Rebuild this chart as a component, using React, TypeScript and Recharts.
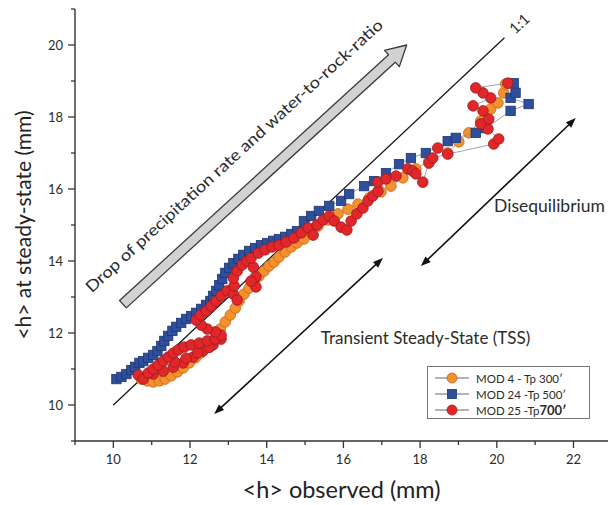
import React from 'react';
import { ScatterChart, Scatter, XAxis, YAxis, ReferenceLine, ReferenceDot } from 'recharts';

// [<h> observed, <h> at steady-state] in mm
const mod4: [number, number][] = [
  [10.73, 10.72], [10.89, 10.67], [11.04, 10.64], [11.2, 10.67], [11.35, 10.72], [11.51, 10.81],
  [11.67, 10.92], [11.82, 11.03], [11.98, 11.17], [12.14, 11.31], [12.27, 11.44], [12.4, 11.58],
  [12.53, 11.75], [12.66, 11.92], [12.79, 12.11], [12.92, 12.31], [13.05, 12.5], [13.18, 12.69],
  [13.28, 12.89], [13.41, 13.08], [13.54, 13.25], [13.67, 13.42], [13.8, 13.58], [13.93, 13.72],
  [14.06, 13.86], [14.19, 13.97], [14.32, 14.11], [14.48, 14.25], [14.64, 14.39], [14.79, 14.5],
  [14.97, 14.61], [15.16, 14.78], [15.34, 14.97], [15.6, 15.14], [15.86, 15.31], [16.12, 15.44],
  [16.38, 15.58], [16.67, 15.75], [16.98, 15.92], [17.24, 16.08], [17.55, 16.31], [17.89, 16.56],
  [18.23, 16.78], [18.72, 17.0], [19.01, 17.31], [19.27, 17.56], [19.58, 17.89], [19.84, 18.22],
  [20.03, 18.39], [20.18, 18.67], [20.23, 18.92],
];

const mod24: [number, number][] = [
  [10.08, 10.72], [10.21, 10.78], [10.34, 10.86], [10.47, 10.97], [10.57, 11.06], [10.68, 11.17],
  [10.78, 11.22], [10.91, 11.31], [11.04, 11.39], [11.15, 11.5], [11.25, 11.64], [11.33, 11.78],
  [11.43, 11.92], [11.54, 12.06], [11.64, 12.17], [11.77, 12.28], [11.9, 12.39], [12.03, 12.47],
  [12.16, 12.56], [12.29, 12.67], [12.42, 12.78], [12.53, 12.89], [12.6, 13.03], [12.68, 13.17],
  [12.76, 13.33], [12.84, 13.5], [12.92, 13.67], [13.02, 13.81], [13.13, 13.94], [13.26, 14.06],
  [13.39, 14.17], [13.54, 14.28], [13.7, 14.36], [13.85, 14.44], [14.01, 14.5], [14.17, 14.56],
  [14.32, 14.61], [14.48, 14.67], [14.64, 14.75], [14.79, 14.83], [14.97, 15.11], [15.16, 15.25],
  [15.36, 15.39], [15.63, 15.53], [15.94, 15.67], [16.15, 15.86], [16.54, 16.08], [16.8, 16.22],
  [17.11, 16.44], [17.45, 16.69], [17.76, 16.86], [18.15, 17.0], [18.72, 17.33], [18.93, 17.42],
  [19.45, 17.56], [19.71, 17.69], [20.36, 18.17], [20.83, 18.36], [20.36, 18.53], [20.49, 18.67],
  [20.44, 18.94],
];

const mod25: [number, number][] = [
  [10.65, 10.83], [10.78, 10.72], [11.04, 10.86], [11.3, 10.94], [11.56, 11.05], [11.82, 11.17],
  [12.08, 11.33], [12.34, 11.5], [12.6, 11.67], [12.81, 11.83], [12.5, 11.6], [12.2, 11.45],
  [11.9, 11.3], [11.6, 11.2], [10.91, 10.89], [11.04, 11.0], [11.17, 11.11], [11.3, 11.22],
  [11.43, 11.33], [11.56, 11.44], [11.69, 11.53], [11.85, 11.61], [12.03, 11.67], [12.24, 11.72],
  [12.45, 11.78], [12.66, 11.83], [12.81, 11.94], [12.66, 12.03], [12.45, 12.11], [12.29, 12.22],
  [12.16, 12.36], [12.27, 12.5], [12.42, 12.61], [12.55, 12.75], [12.68, 12.89], [12.81, 13.03],
  [12.97, 13.17], [13.13, 13.08], [13.23, 12.92], [13.15, 13.31], [13.13, 13.53], [13.23, 13.72],
  [13.36, 13.89], [13.49, 14.0], [13.65, 13.83], [13.72, 13.56], [13.72, 13.28], [13.59, 13.44],
  [13.59, 14.08], [13.78, 14.22], [13.96, 14.31], [14.14, 14.39], [14.32, 14.44], [14.51, 14.53],
  [14.71, 14.64], [14.9, 14.78], [15.08, 14.92], [15.21, 14.72], [15.31, 15.0], [15.47, 15.14],
  [15.63, 15.25], [15.76, 15.11], [15.94, 14.94], [16.09, 14.86], [16.2, 15.11], [16.35, 15.31],
  [16.51, 15.47], [16.64, 15.67], [16.77, 15.81], [16.9, 15.94], [16.9, 16.19], [17.11, 16.28],
  [17.37, 16.36], [17.68, 16.56], [17.81, 16.5], [17.89, 16.42], [18.07, 16.19], [18.23, 16.72],
  [18.33, 16.86], [18.46, 17.14], [18.72, 16.97], [19.92, 17.25], [20.05, 17.39], [19.77, 17.67],
  [19.58, 17.81], [19.79, 17.94], [19.64, 18.17], [19.38, 18.31], [19.84, 18.53], [19.64, 18.67],
  [19.45, 18.81], [20.29, 18.94],
];

const xTicks = [9, 10, 11, 12, 13, 14, 15, 16, 17, 18, 19, 20, 21, 22];
const yTicks = [9, 10, 11, 12, 13, 14, 15, 16, 17, 18, 19, 20, 21];

// annotation anchors, data space
const oneToOne = [{ x: 10, y: 10 }, { x: 20.2, y: 20.2 }];
const dropArrow = [{ x: 10.25, y: 12.8 }, { x: 17.65, y: 20.0 }];
const tssArrow = [{ x: 12.63, y: 9.75 }, { x: 17.03, y: 14.08 }];
const diseqArrow = [{ x: 18.02, y: 13.86 }, { x: 22.06, y: 17.97 }];

const TEXT = '#2b2b2b';
const AXIS = '#333';

const toPts = (arr: number[][]) => arr.map(([x, y]) => ({ x, y }));

const dirOf = (p: any) => {
  const dx = p.x2 - p.x1;
  const dy = p.y2 - p.y1;
  const len = Math.hypot(dx, dy) || 1;
  return { ux: dx / len, uy: dy / len, ang: (Math.atan2(dy, dx) * 180) / Math.PI };
};

const pts = (list: number[][]) => list.map((q) => q.join(',')).join(' ');

const OneToOneShape = (p: any) => {
  const { ux, uy, ang } = dirOf(p);
  const tx = p.x2 + ux * 10;
  const ty = p.y2 + uy * 10;
  return (
    <g>
      <line x1={p.x1} y1={p.y1} x2={p.x2} y2={p.y2} stroke="#111" strokeWidth={1.2} />
      <text x={tx} y={ty} dy="0.35em" fontSize={15} fill={TEXT} transform={`rotate(${ang} ${tx} ${ty})`}>
        1:1
      </text>
    </g>
  );
};

const DropArrowShape = (p: any) => {
  const { ux, uy, ang } = dirOf(p);
  const nx = -uy;
  const ny = ux;
  const hw = 5;
  const hh = 11;
  const hl = 20;
  const bx = p.x2 - ux * hl;
  const by = p.y2 - uy * hl;
  const poly = [
    [p.x1 + nx * hw, p.y1 + ny * hw],
    [bx + nx * hw, by + ny * hw],
    [bx + nx * hh, by + ny * hh],
    [p.x2, p.y2],
    [bx - nx * hh, by - ny * hh],
    [bx - nx * hw, by - ny * hw],
    [p.x1 - nx * hw, p.y1 - ny * hw],
  ];
  const mx = (p.x1 + p.x2) / 2 - ux * 10;
  const my = (p.y1 + p.y2) / 2 - uy * 10;
  const tx = mx - nx * 29;
  const ty = my - ny * 29;
  return (
    <g>
      <polygon points={pts(poly)} fill="#d2d2d2" stroke="#3a3a3a" strokeWidth={1.3} strokeLinejoin="round" />
      <text
        x={tx}
        y={ty}
        textAnchor="middle"
        fontSize={16}
        textLength={396}
        lengthAdjust="spacingAndGlyphs"
        fill={TEXT}
        transform={`rotate(${ang} ${tx} ${ty})`}
      >
        Drop of precipitation rate and water-to-rock-ratio
      </text>
    </g>
  );
};

const DoubleArrowShape = (p: any) => {
  const { ux, uy } = dirOf(p);
  const nx = -uy;
  const ny = ux;
  const hl = 10;
  const hw = 3.8;
  const head = (x: number, y: number, s: number) => [
    [x, y],
    [x - s * ux * hl + nx * hw, y - s * uy * hl + ny * hw],
    [x - s * ux * hl - nx * hw, y - s * uy * hl - ny * hw],
  ];
  return (
    <g>
      <line
        x1={p.x1 + ux * 6}
        y1={p.y1 + uy * 6}
        x2={p.x2 - ux * 6}
        y2={p.y2 - uy * 6}
        stroke="#111"
        strokeWidth={1.6}
      />
      <polygon points={pts(head(p.x2, p.y2, 1))} fill="#111" />
      <polygon points={pts(head(p.x1, p.y1, -1))} fill="#111" />
    </g>
  );
};

const XTick = (props: any) => {
  const { x, y, payload } = props;
  const major = payload.value % 2 === 0;
  return (
    <g>
      <line x1={x} y1={y} x2={x} y2={y + (major ? 7 : 4)} stroke={AXIS} strokeWidth={1.3} />
      {major && (
        <text x={x} y={y + 23} textAnchor="middle" fontSize={13} fill={TEXT}>
          {payload.value}
        </text>
      )}
    </g>
  );
};

const YTick = (props: any) => {
  const { x, y, payload } = props;
  const major = payload.value % 2 === 0;
  return (
    <g>
      <line x1={x} y1={y} x2={x - (major ? 7 : 4)} y2={y} stroke={AXIS} strokeWidth={1.3} />
      {major && (
        <text x={x - 12} y={y} dy="0.35em" textAnchor="end" fontSize={13} fill={TEXT}>
          {payload.value}
        </text>
      )}
    </g>
  );
};

const circleMarker = (fill: string, stroke: string) => (p: any) =>
  <circle cx={p.cx} cy={p.cy} r={5.3} fill={fill} stroke={stroke} strokeWidth={0.8} />;

const squareMarker = (fill: string, stroke: string) => (p: any) =>
  <rect x={p.cx - 4.7} y={p.cy - 4.7} width={9.4} height={9.4} fill={fill} stroke={stroke} strokeWidth={0.8} />;

const ORANGE = ['#f3922c', '#c4661a'];
const BLUE = ['#2e4f9c', '#1f3672'];
const RED = ['#e2262a', '#9c1b1b'];

const legendRows = [
  { key: 'm4', marker: 'circle', c: ORANGE, label: <>MOD 4 - Tp 300′</> },
  { key: 'm24', marker: 'square', c: BLUE, label: <>MOD 24 -Tp 500′</> },
  { key: 'm25', marker: 'circle', c: RED, label: <>MOD 25 -Tp<b style={{ fontSize: 13 }}>700′</b></> },
];

export default function App() {
  return (
    <div
      style={{
        position: 'absolute',
        left: 0,
        top: 0,
        width: 608,
        height: 505,
        background: '#fff',
        fontFamily: 'Lato, "Open Sans", sans-serif',
        overflow: 'hidden',
      }}
    >
      <ScatterChart width={608} height={505} margin={{ top: 9, right: 0, bottom: 0, left: 0 }}>
        <XAxis
          type="number"
          dataKey="x"
          domain={[9, 22.9]}
          ticks={xTicks}
          interval={0}
          height={64}
          tickSize={0}
          tickMargin={0}
          tickLine={false}
          tick={<XTick />}
          axisLine={{ stroke: AXIS, strokeWidth: 1.4 }}
          allowDataOverflow
          label={{ value: '<h> observed (mm)', position: 'insideBottom', offset: 7, fontSize: 23.5, fill: '#222' }}
        />
        <YAxis
          type="number"
          dataKey="y"
          domain={[9, 21]}
          ticks={yTicks}
          interval={0}
          width={75}
          tickSize={0}
          tickMargin={0}
          tickLine={false}
          tick={<YTick />}
          axisLine={{ stroke: AXIS, strokeWidth: 1.4 }}
          allowDataOverflow
          label={{
            value: '<h> at steady-state (mm)',
            angle: -90,
            position: 'insideLeft',
            offset: 24,
            fontSize: 21,
            fill: '#222',
            style: { textAnchor: 'middle' },
          }}
        />

        <ReferenceLine segment={oneToOne} shape={OneToOneShape} />
        <ReferenceLine segment={dropArrow} shape={DropArrowShape} />
        <ReferenceLine segment={tssArrow} shape={DoubleArrowShape} />
        <ReferenceLine segment={diseqArrow} shape={DoubleArrowShape} />

        <ReferenceDot
          x={15.41}
          y={11.86}
          r={0}
          fill="none"
          stroke="none"
          label={{ value: 'Transient Steady-State (TSS)', position: 'right', offset: 0, fontSize: 17, fill: TEXT }}
        />
        <ReferenceDot
          x={19.93}
          y={15.53}
          r={0}
          fill="none"
          stroke="none"
          label={{ value: 'Disequilibrium', position: 'right', offset: 0, fontSize: 17.5, fill: TEXT }}
        />

        <Scatter
          name="MOD 4 - Tp 300'"
          data={toPts(mod4)}
          line={{ stroke: '#8c8c8c', strokeWidth: 0.8 }}
          shape={circleMarker(ORANGE[0], ORANGE[1])}
          isAnimationActive={false}
        />
        <Scatter
          name="MOD 24 -Tp 500'"
          data={toPts(mod24)}
          line={{ stroke: '#8c8c8c', strokeWidth: 0.8 }}
          shape={squareMarker(BLUE[0], BLUE[1])}
          isAnimationActive={false}
        />
        <Scatter
          name="MOD 25 -Tp700'"
          data={toPts(mod25)}
          line={{ stroke: '#8c8c8c', strokeWidth: 0.8 }}
          shape={circleMarker(RED[0], RED[1])}
          isAnimationActive={false}
        />
      </ScatterChart>

      {/* legend box */}
      <div
        style={{
          position: 'absolute',
          left: 427,
          top: 366,
          width: 163,
          height: 53,
          border: '1px solid #777',
          background: '#fff',
          paddingTop: 3,
          boxSizing: 'border-box',
        }}
      >
        {legendRows.map((r) => (
          <div key={r.key} style={{ display: 'flex', alignItems: 'center', height: 16, paddingLeft: 7 }}>
            <svg width={34} height={12} style={{ flex: 'none' }}>
              <line x1={0} y1={6} x2={34} y2={6} stroke="#555" strokeWidth={0.9} />
              {r.marker === 'circle' ? (
                <circle cx={17} cy={6} r={5} fill={r.c[0]} stroke={r.c[1]} strokeWidth={0.8} />
              ) : (
                <rect x={12.5} y={1.5} width={9} height={9} fill={r.c[0]} stroke={r.c[1]} strokeWidth={0.8} />
              )}
            </svg>
            <span style={{ marginLeft: 7, fontSize: 11.5, color: TEXT, whiteSpace: 'nowrap' }}>{r.label}</span>
          </div>
        ))}
      </div>
    </div>
  );
}
